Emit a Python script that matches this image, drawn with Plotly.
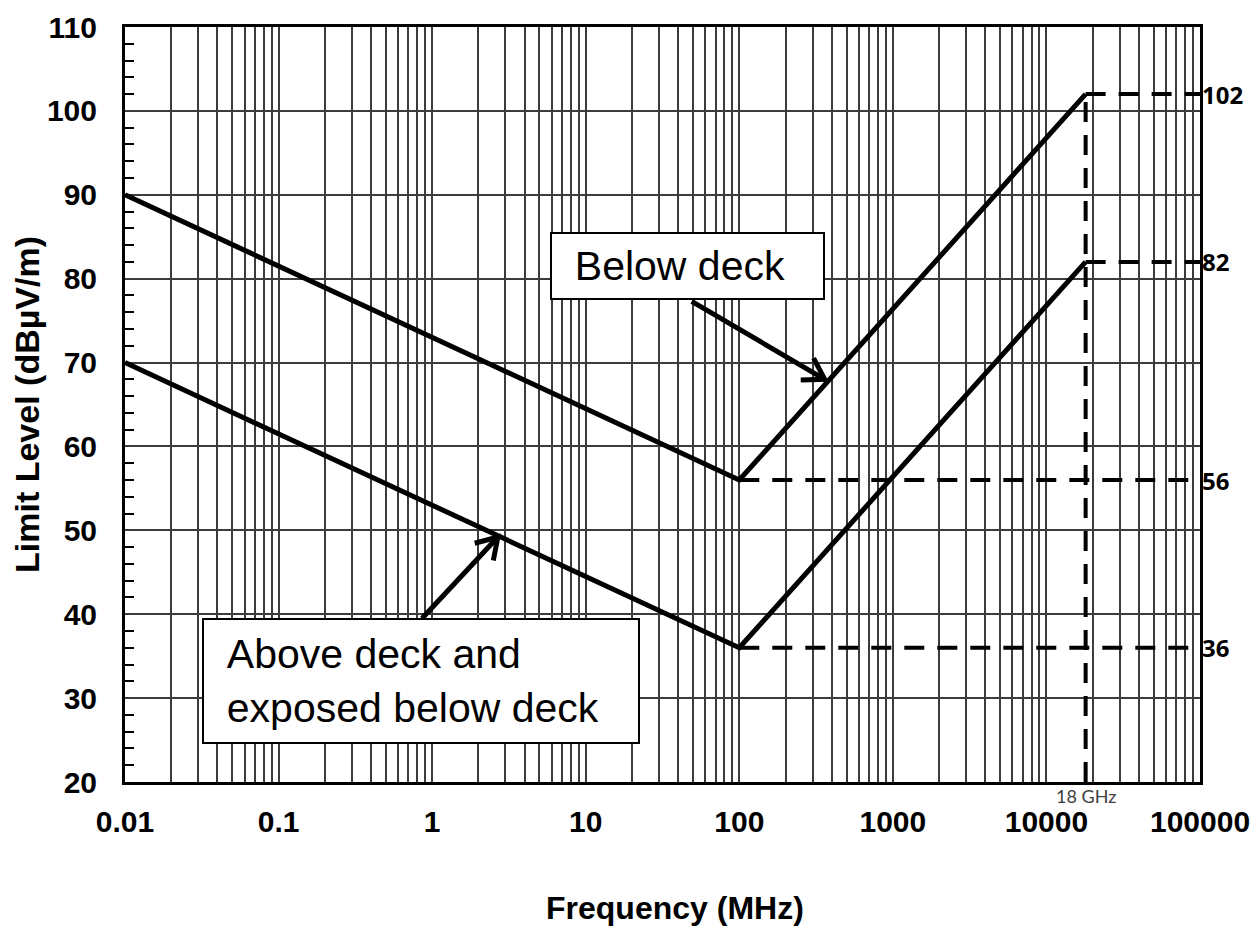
import numpy as np
import plotly.graph_objects as go

# ---------------- data ----------------
freq_nodes = [0.01, 100, 18000]          # MHz
below_deck = [90, 56, 102]               # dBuV/m
above_deck = [70, 36, 82]                # dBuV/m
ref_levels = [102, 82, 56, 36]           # dashed reference levels
ref_start = [18000, 18000, 100, 100]     # where each dashed level starts (MHz)
freq_end = 100000
marker_freq = 18000
marker_label = "18 GHz"
decade_vals = [0.01, 0.1, 1, 10, 100, 1000, 10000, 100000]
decade_labels = ["0.01", "0.1", "1", "10", "100", "1000", "10000", "100000"]
y_range = [20, 110]
x_title = "Frequency (MHz)"
y_title = "Limit Level (dBµV/m)"
label_below = "Below deck"
label_above = "Above deck and<br>exposed below deck"
arrow_below = [(49, 77.3), (360, 68.0)]    # (tail), (head) in (MHz, dBuV/m)
arrow_above = [(0.858, 39.5), (2.68, 49.2)]

# ---------------- layout geometry ----------------
# page body has an 8px margin, so the figure is drawn 8px smaller and offset
OFF = 8
W, H = 1260 - OFF, 928 - OFF
L, R, T, B = 125 - OFF, 1200 - OFF, 27 - OFF, 782 - OFF
lx0, lx1 = np.log10(decade_vals[0]), np.log10(decade_vals[-1])

def to_px(x, y):
    px = L + (R - L) * (np.log10(x) - lx0) / (lx1 - lx0)
    py = B - (B - T) * (y - y_range[0]) / (y_range[1] - y_range[0])
    return px, py

def from_px(px, py):
    x = 10 ** (lx0 + (px - L) / (R - L) * (lx1 - lx0))
    y = y_range[0] + (B - py) / (B - T) * (y_range[1] - y_range[0])
    return x, y

def arrow_xy(tail, head, arm=24, ang=32):
    tx, ty = to_px(*tail)
    hx, hy = to_px(*head)
    ux, uy = tx - hx, ty - hy
    n = np.hypot(ux, uy)
    ux, uy = ux / n, uy / n
    pts = []
    for s in (1, -1):
        a = np.radians(ang * s)
        vx = ux * np.cos(a) - uy * np.sin(a)
        vy = ux * np.sin(a) + uy * np.cos(a)
        pts.append(from_px(hx + arm * vx, hy + arm * vy))
    xs = [tail[0], head[0], None, pts[0][0], head[0], pts[1][0]]
    ys = [tail[1], head[1], None, pts[0][1], head[1], pts[1][1]]
    return xs, ys

fig = go.Figure()

# dashed reference levels
for lvl, x0 in zip(ref_levels, ref_start):
    fig.add_trace(go.Scatter(x=[x0, freq_end], y=[lvl, lvl], mode="lines",
                             line=dict(color="black", width=4, dash="20px,13px"),
                             hoverinfo="skip"))
fig.add_trace(go.Scatter(x=[marker_freq, marker_freq], y=[y_range[0], ref_levels[0]],
                         mode="lines", line=dict(color="black", width=4, dash="20px,13px"),
                         hoverinfo="skip"))

# limit lines
fig.add_trace(go.Scatter(x=freq_nodes, y=below_deck, mode="lines", name="Below deck",
                         line=dict(color="black", width=5)))
fig.add_trace(go.Scatter(x=freq_nodes, y=above_deck, mode="lines",
                         name="Above deck and exposed below deck",
                         line=dict(color="black", width=5)))

# arrows
for tail, head in (arrow_below, arrow_above):
    ax, ay = arrow_xy(tail, head)
    fig.add_trace(go.Scatter(x=ax, y=ay, mode="lines", line=dict(color="black", width=5),
                             hoverinfo="skip"))

# x ticks: every 1..9 x decade for grid; label only decades
tickvals, ticktext = [], []
for d, lab in zip(decade_vals, decade_labels):
    tickvals.append(d)
    ticktext.append(lab)
    if d < decade_vals[-1]:
        for k in range(2, 10):
            tickvals.append(d * k)
            ticktext.append("")

tick_font = dict(family="Liberation Sans, Arial, sans-serif", size=30, color="black",
                 weight="bold")
xtitle_font = dict(family="Liberation Sans, Arial, sans-serif", size=32, color="black",
                   weight="bold")
ytitle_font = dict(family="Liberation Sans, Arial, sans-serif", size=34, color="black",
                   weight="bold")

fig.update_xaxes(type="log", range=[lx0, lx1], tickmode="array", tickvals=tickvals,
                 ticktext=ticktext, ticks="", showgrid=True, gridcolor="#3c3c3c",
                 gridwidth=1.6, showline=True, linecolor="black", linewidth=3, mirror=True,
                 zeroline=False, tickfont=tick_font, ticklabelstandoff=11,
                 automargin=False)
fig.update_yaxes(range=y_range, dtick=10, tick0=0, ticks="", showgrid=True,
                 gridcolor="#3c3c3c", gridwidth=1.6, showline=True, linecolor="black",
                 linewidth=3, mirror=True, zeroline=False, tickfont=tick_font,
                 ticklabelstandoff=19,
                 minor=dict(dtick=2, ticks="inside", ticklen=9, tickwidth=2,
                            tickcolor="black", showgrid=False),
                 title=dict(text=y_title, font=ytitle_font, standoff=3),
                 automargin=False)

annotations = []
# x-axis title (slightly right of the plot centre, as in the original)
annotations.append(dict(xref="paper", yref="paper", x=(675 - 125) / (1200 - 125), y=0,
                        xanchor="center", yanchor="top", yshift=-106, showarrow=False,
                        text=x_title, font=xtitle_font))
# right-hand level labels
for lvl in ref_levels:
    annotations.append(dict(xref="paper", yref="y", x=1, y=lvl, xanchor="left",
                            yanchor="middle", xshift=0, showarrow=False,
                            text=str(lvl),
                            font=dict(family="Noto Sans, sans-serif", size=24,
                                      color="black", weight="bold")))
annotations.append(dict(xref="x", yref="paper", x=np.log10(marker_freq), y=0,
                        xanchor="center", yanchor="top", yshift=-1, showarrow=False,
                        text=marker_label,
                        font=dict(family="Lato, sans-serif", size=18, color="#404040")))

def box(left, right, top, bottom, text):
    left, right, top, bottom = left - OFF, right - OFF, top - OFF, bottom - OFF
    cx, cy = (left + right) / 2, (top + bottom) / 2
    nb = "\u00a0\u00a0"
    txt = "<br>".join(nb + t for t in text.split("<br>"))
    return dict(xref="paper", yref="paper", x=(cx - L) / (R - L), y=(B - cy) / (B - T),
                xanchor="center", yanchor="middle", showarrow=False, text=txt,
                align="left", width=right - left - 4, height=bottom - top - 4,
                bgcolor="white", bordercolor="black", borderwidth=2, borderpad=0,
                font=dict(family="Liberation Sans, Arial, sans-serif", size=41, color="black"))

annotations.append(box(550, 825, 232, 300, label_below))
annotations.append(box(202, 640, 618, 744, label_above))

fig.update_layout(width=W, height=H, margin=dict(l=L, r=W - R, t=T, b=H - B),
                  plot_bgcolor="white", paper_bgcolor="white", showlegend=False,
                  annotations=annotations)

fig.write_html("out.html")
